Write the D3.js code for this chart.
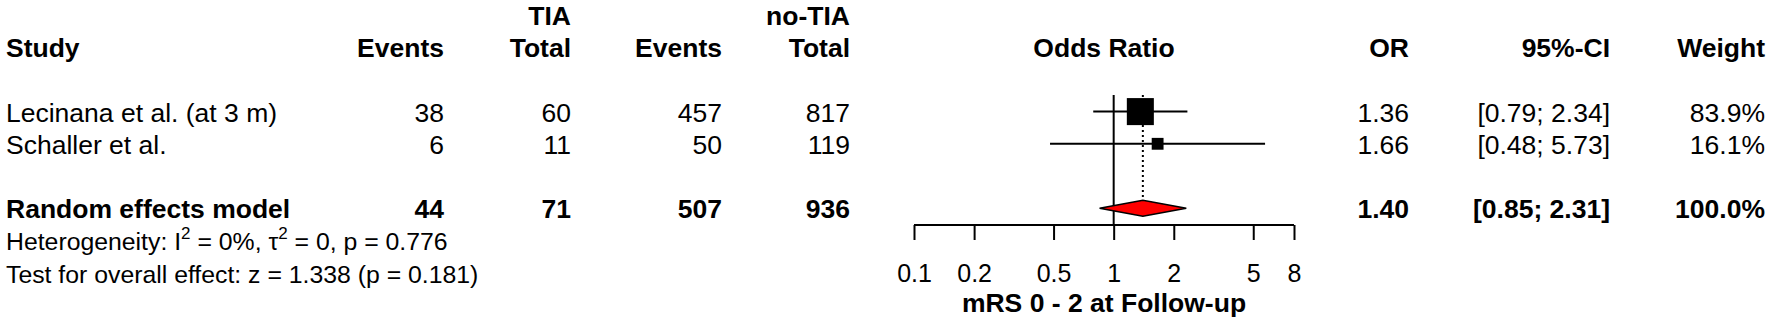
<!DOCTYPE html>
<html lang="en">
<head>
    <meta charset="UTF-8">
    <title>Forest plot</title>
    <script src="https://d3js.org/d3.v7.min.js"></script>
    <style>
        body { margin: 0; background: #fff; }
        svg { font-family: "Liberation Sans", Arial, Helvetica, sans-serif; font-size: 26.5px; }
        text { fill: #000; }
    </style>
</head>
<body>
    <svg width="1772" height="326" id="forest"></svg>

    <script>
        // study data
        var studies = ["Lecinana et al. (at 3 m)", "Schaller et al."];
        var eventsTIA = [38, 6];
        var totalTIA = [60, 11];
        var eventsNoTIA = [457, 50];
        var totalNoTIA = [817, 119];
        var oddsRatio = [1.36, 1.66];
        var ciLower = [0.79, 0.48];
        var ciUpper = [2.34, 5.73];
        var weights = [83.9, 16.1];

        // pooled (random effects)
        var pooledLabel = "Random effects model";
        var pooledTotals = [44, 71, 507, 936];
        var pooledOR = [1.40, 0.85, 2.31]; // estimate, lower, upper
        var pooledWeight = 100.0;

        var tickValues = [0.1, 0.2, 0.5, 1, 2, 5, 8];
        var xLabel = "mRS 0 - 2 at Follow-up";

        var svg = d3.select("#forest");

        // row baselines (line index -> y)
        var line = d3.scaleLinear().domain([0, 1]).range([25, 57.2]);
        var rowLine = [3, 4], pooledLine = 6, hetLine = 7, testLine = 8;

        var x = d3.scaleLog().domain([0.1, 8]).range([914, 1294]);
        var boxSize = d3.scaleSqrt().domain([0, 100]).range([0, 29.5]);

        // column right edges
        var colX = { events1: 444, total1: 571, events2: 722, total2: 850, or: 1409, ci: 1610, weight: 1765 };

        var fmt2 = d3.format(".2f");
        var fmt1 = d3.format(".1f");

        function txt(xp, yp, s, anchor, bold) {
            return svg.append("text")
                .attr("x", xp).attr("y", yp)
                .attr("text-anchor", anchor || "end")
                .attr("font-weight", bold ? "bold" : "normal")
                .text(s);
        }

        // headers
        txt(colX.total1, line(0), "TIA", "end", true);
        txt(colX.total2, line(0), "no-TIA", "end", true);
        txt(6, line(1), "Study", "start", true);
        txt(colX.events1, line(1), "Events", "end", true);
        txt(colX.total1, line(1), "Total", "end", true);
        txt(colX.events2, line(1), "Events", "end", true);
        txt(colX.total2, line(1), "Total", "end", true);
        txt((x.range()[0] + x.range()[1]) / 2, line(1), "Odds Ratio", "middle", true);
        txt(colX.or, line(1), "OR", "end", true);
        txt(colX.ci, line(1), "95%-CI", "end", true);
        txt(colX.weight, line(1), "Weight", "end", true);

        // study rows
        studies.forEach(function (s, i) {
            var yb = line(rowLine[i]);
            txt(6, yb, s, "start");
            txt(colX.events1, yb, eventsTIA[i]);
            txt(colX.total1, yb, totalTIA[i]);
            txt(colX.events2, yb, eventsNoTIA[i]);
            txt(colX.total2, yb, totalNoTIA[i]);
            txt(colX.or, yb, fmt2(oddsRatio[i]));
            txt(colX.ci, yb, "[" + fmt2(ciLower[i]) + "; " + fmt2(ciUpper[i]) + "]");
            txt(colX.weight, yb, fmt1(weights[i]) + "%");
        });

        // pooled row
        var yp = line(pooledLine);
        txt(6, yp, pooledLabel, "start", true);
        txt(colX.events1, yp, pooledTotals[0], "end", true);
        txt(colX.total1, yp, pooledTotals[1], "end", true);
        txt(colX.events2, yp, pooledTotals[2], "end", true);
        txt(colX.total2, yp, pooledTotals[3], "end", true);
        txt(colX.or, yp, fmt2(pooledOR[0]), "end", true);
        txt(colX.ci, yp, "[" + fmt2(pooledOR[1]) + "; " + fmt2(pooledOR[2]) + "]", "end", true);
        txt(colX.weight, yp, fmt1(pooledWeight) + "%", "end", true);

        // heterogeneity text (slightly smaller font)
        var het = svg.append("text").attr("x", 6).attr("y", line(hetLine)).style("font-size", "24.8px");
        het.append("tspan").text("Heterogeneity: I");
        het.append("tspan").attr("dy", -11).style("font-size", "17px").text("2");
        het.append("tspan").attr("dy", 11).text(" = 0%, \u03c4");
        het.append("tspan").attr("dy", -11).style("font-size", "17px").text("2");
        het.append("tspan").attr("dy", 11).text(" = 0, p = 0.776");

        txt(6, line(testLine), "Test for overall effect: z = 1.338 (p = 0.181)", "start")
            .style("font-size", "24.8px");

        // forest plot
        var g = svg.append("g").attr("stroke", "#000").attr("stroke-width", 2);
        var axisY = 225;

        // null line
        g.append("line")
            .attr("x1", x(1)).attr("x2", x(1))
            .attr("y1", 95).attr("y2", axisY);

        var diamondH = 8;
        // pooled dotted line
        g.append("line")
            .attr("x1", x(pooledOR[0])).attr("x2", x(pooledOR[0]))
            .attr("y1", 95).attr("y2", yp - 10 - diamondH)
            .attr("stroke-dasharray", "2,3");

        studies.forEach(function (s, i) {
            var cy = line(rowLine[i]) - 10;
            g.append("line")
                .attr("x1", x(ciLower[i])).attr("x2", x(ciUpper[i]))
                .attr("y1", cy).attr("y2", cy);
            var sz = boxSize(weights[i]);
            g.append("rect")
                .attr("x", x(oddsRatio[i]) - sz / 2).attr("y", cy - sz / 2)
                .attr("width", sz).attr("height", sz)
                .attr("fill", "#000").attr("stroke", "none");
        });

        var dc = yp - 10;
        g.append("path")
            .attr("d", "M" + x(pooledOR[1]) + "," + dc +
                       "L" + x(pooledOR[0]) + "," + (dc - diamondH) +
                       "L" + x(pooledOR[2]) + "," + dc +
                       "L" + x(pooledOR[0]) + "," + (dc + diamondH) + "Z")
            .attr("fill", "#ff0000")
            .attr("stroke-width", 1.5);

        // x axis
        var axis = d3.axisBottom(x)
            .tickValues(tickValues)
            .tickFormat(d3.format("~g"))
            .tickSize(15)
            .tickPadding(27)
            .tickSizeOuter(0);
        var ax = svg.append("g")
            .attr("transform", "translate(0," + axisY + ")")
            .call(axis);
        ax.attr("font-size", null).attr("font-family", null);
        ax.select(".domain").attr("stroke-width", 2).attr("d", "M" + x.range()[0] + ",0H" + x.range()[1]);
        ax.selectAll(".tick line").attr("stroke-width", 2);
        ax.selectAll(".tick text").style("font-size", "25px").attr("dy", null).attr("y", 57);

        txt(1104, 312, xLabel, "middle", true);
    </script>
</body>
</html>
